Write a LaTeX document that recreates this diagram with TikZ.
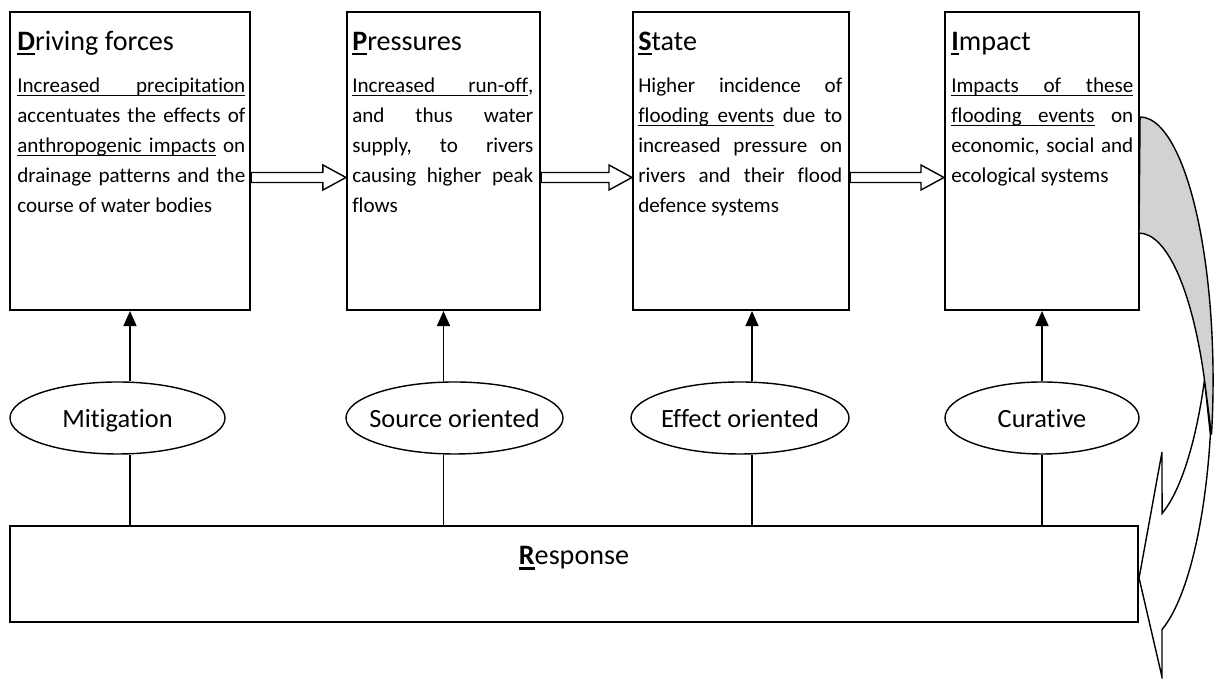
\documentclass[tikz,border=0pt]{standalone}
\usepackage{fontspec}
\setmainfont{Carlito}[Ligatures=NoCommon]
\usetikzlibrary{shapes.geometric,arrows.meta,calc}

% 下划线单词, 下划线空格, 普通空格, 两端对齐的一行
\newcommand{\ulw}[1]{\setbox0\hbox{#1}\rlap{\rule[-1.7pt]{\wd0}{0.7pt}}\box0}
\newcommand{\ugap}{\leaders\hrule height -1pt depth 1.7pt\hskip 0.226em plus 1fil\relax}
\newcommand{\gap}{\hskip 0.226em plus 1fil\relax}
\newcommand{\jline}[1]{\hbox to \hsize{#1}}
\newcommand{\bodytext}[2]{\vtop{\hsize=#1\relax #2}}
% 首字母加粗加下划线
\newcommand{\initial}[1]{\setbox0\hbox{\textbf{#1}}\rlap{\rule[-2.6pt]{\wd0}{1.3pt}}\box0}
% 空心块箭头
\newcommand{\blockarrow}[2]{%
  \draw[blockline] let \p1=(#1), \p2=(#2) in
    (\x1,\y1+0.1cm) -- (\x2-0.46cm,\y1+0.1cm) -- (\x2-0.46cm,\y1+0.25cm) -- (\x2,\y1)
    -- (\x2-0.46cm,\y1-0.25cm) -- (\x2-0.46cm,\y1-0.1cm) -- (\x1,\y1-0.1cm) -- cycle;}

\tikzset{
  box/.style={draw, line width=1.2pt, rectangle, inner sep=0pt, minimum height=5.96cm},
  title/.style={anchor=base west, inner sep=0pt, font=\fontsize{16}{19}\selectfont},
  body/.style={anchor=base west, inner sep=0pt, font=\fontsize{12}{17.07}\selectfont},
  ell/.style={draw, ellipse, line width=0.8pt, inner sep=0pt, minimum height=1.44cm},
  elltxt/.style={anchor=base, inner sep=0pt, font=\fontsize{15}{18}\selectfont},
  up/.style={line width=0.9pt, -{Triangle[length=0.3cm,width=0.26cm]}},
  link/.style={line width=0.9pt},
  blockline/.style={line width=0.8pt, fill=white},
}

\begin{document}
\begin{tikzpicture}
            \useasboundingbox (0,0) rectangle (24.28,13.58);

            % 上面四个框
            \node[box, minimum width=4.8cm] (d) at (2.6,10.36) {};
            \node[box, minimum width=3.86cm] (p) at (8.87,10.36) {};
            \node[box, minimum width=4.32cm] (s) at (14.82,10.36) {};
            \node[box, minimum width=3.88cm] (i) at (20.84,10.36) {};

            % 框里的标题和文字
            \node[title] (dt) at ([shift={(0.16,-0.8)}]d.north west) {\initial{D}riving forces};
            \node[body] (db) at ([shift={(0.16,-1.64)}]d.north west) {\bodytext{4.56cm}{%
                \jline{\ulw{Increased}\ugap\ulw{precipitation}}
                \jline{accentuates\gap the\gap effects\gap of}
                \jline{\ulw{anthropogenic}\ugap\ulw{impacts}\gap on}
                \jline{drainage\gap patterns\gap and\gap the}
                \hbox{course of water bodies}}};
            \node[title] (pt) at ([shift={(0.12,-0.8)}]p.north west) {\initial{P}ressures};
            \node[body] (pb) at ([shift={(0.12,-1.64)}]p.north west) {\bodytext{3.62cm}{%
                \jline{\ulw{Increased}\ugap\ulw{run-off},}
                \jline{and\gap thus\gap water}
                \jline{supply,\gap to\gap rivers}
                \jline{causing\gap higher\gap peak}
                \hbox{flows}}};
            \node[title] (st) at ([shift={(0.12,-0.8)}]s.north west) {\initial{S}tate};
            \node[body] (sb) at ([shift={(0.12,-1.64)}]s.north west) {\bodytext{4.08cm}{%
                \jline{Higher\gap incidence\gap of}
                \jline{\ulw{flooding}\ugap\ulw{events}\gap due\gap to}
                \jline{increased\gap pressure\gap on}
                \jline{rivers\gap and\gap their\gap flood}
                \hbox{defence systems}}};
            \node[title] (it) at ([shift={(0.14,-0.8)}]i.north west) {\initial{I}mpact};
            \node[body] (ib) at ([shift={(0.14,-1.64)}]i.north west) {\bodytext{3.64cm}{%
                \jline{\ulw{Impacts}\ugap\ulw{of}\ugap\ulw{these}}
                \jline{\ulw{flooding}\ugap\ulw{events}\gap on}
                \jline{economic,\gap social\gap and}
                \hbox{ecological systems}}};

            % 框之间的块箭头
            \coordinate (ba) at (0,10.03);
            \blockarrow{d.east |- ba}{p.west |- ba}
            \blockarrow{p.east |- ba}{s.west |- ba}
            \blockarrow{s.east |- ba}{i.west |- ba}

            % 椭圆
            \foreach \n/\x/\w/\t in {m/2.35/4.3/Mitigation, so/9.09/4.34/Source oriented,
                                     eo/14.8/4.36/Effect oriented, c/20.84/3.88/Curative} {
                \node[ell, minimum width=\w cm] (\n) at (\x,5.22) {};
                \node[elltxt] (\n t) at ([yshift=-0.2cm]\n.center) {\t};
            }

            % Response 框
            \node[box, minimum width=22.56cm, minimum height=1.92cm] (r) at (11.48,2.1) {};
            \node[anchor=base, inner sep=0pt, font=\fontsize{16}{19}\selectfont] (rt) at (11.48,2.28) {\initial{R}esponse};

            % 向上的箭头
            \coordinate (sx) at ([xshift=0.22cm]s.south);
            \draw[up] (m.north -| d.south) -- (d.south);
            \draw[up] (so.north -| p.south) -- (p.south);
            \draw[up] (eo.north -| sx) -- (sx);
            \draw[up] (c.north -| i.south) -- (i.south);

            % 椭圆到 Response 的竖线
            \draw[link] (m.south -| d.south) -- (r.north -| d.south);
            \draw[link] (so.south -| p.south) -- (r.north -| p.south);
            \draw[link] (eo.south -| sx) -- (r.north -| sx);
            \draw[link] (c.south -| i.south) -- (r.north -| i.south);

            % 右边的弯箭头, 前面白色
            \draw[line width=0.8pt, fill=white] (24.09,5.98)
                arc[start angle=-26.2, end angle=-71.6, x radius=1.46cm, y radius=5.26cm]
                -- (23.24,4.54) -- (r.east |- 0,2.02) -- (23.24,0.04) -- (23.24,0.99)
                arc[start angle=-71.6, end angle=-12, x radius=1.46cm, y radius=5.26cm] -- cycle;
            % 后面灰色
            \draw[line width=0.8pt, fill=gray!35] (i.east |- 0,11.24)
                arc[start angle=90, end angle=-12, x radius=1.46cm, y radius=5.26cm]
                -- (24.09,5.98)
                arc[start angle=26.2, end angle=90, x radius=1.46cm, y radius=5.26cm] -- cycle;

\end{tikzpicture}
\end{document}
